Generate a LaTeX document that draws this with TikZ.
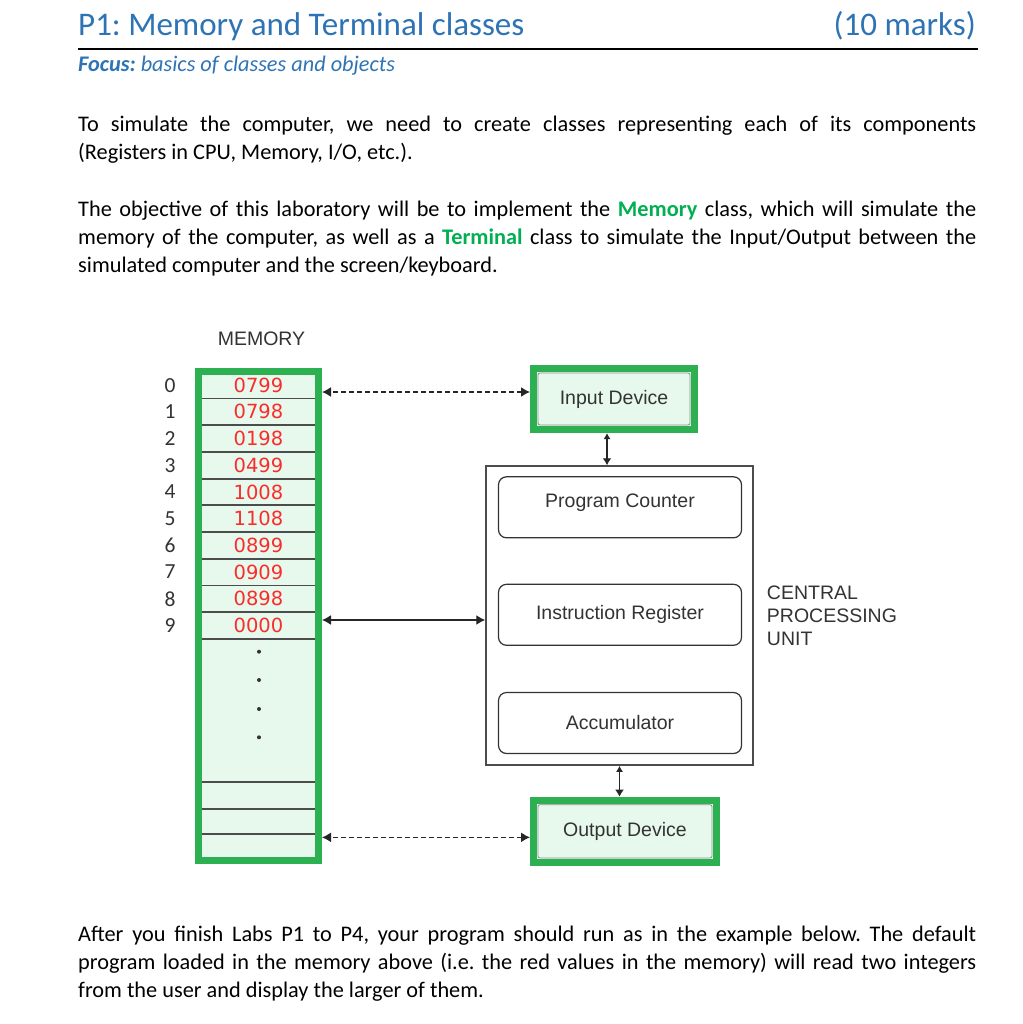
\documentclass[tikz,border=0pt]{standalone}
\usepackage{fontspec}
\setmainfont{Carlito}
\newfontfamily\diagfont{Liberation Sans}
\newfontfamily\cellfont{DejaVu Sans}
\usetikzlibrary{arrows.meta,positioning}
\definecolor{headblue}{RGB}{46,116,181}
\definecolor{wordgreen}{RGB}{0,176,80}
\definecolor{boxgreen}{RGB}{44,176,82}
\definecolor{boxfill}{RGB}{231,249,236}
\definecolor{cellred}{RGB}{250,45,45}
\definecolor{inkgray}{RGB}{51,51,51}
\newcommand{\bodysize}{\fontsize{22.3}{27.8}\selectfont}
\newcommand{\diagsize}{\fontsize{19.5}{23}\selectfont}
\frenchspacing

\begin{document}
\begin{tikzpicture}[x=1pt,y=-1pt,>={Latex[length=9pt,width=10pt]},
 para/.style={anchor=base west,inner sep=0pt,text width=898pt,align=justify,font=\bodysize},
 greenbox/.style={draw=boxgreen,line width=7pt,fill=boxfill,font=\diagfont\diagsize,text=inkgray},
 inframe/.style={draw=black!45,line width=0.8pt,rounded corners=2pt},
 reg/.style={draw=inkgray,line width=1.2pt,rounded corners=8pt,minimum width=243pt,minimum height=61pt,font=\diagfont\diagsize,text=inkgray},
 rowline/.style={draw=black!70,line width=1.8pt},
 cell/.style={inner sep=0pt,font=\cellfont\fontsize{19.5}{19.5}\selectfont,text=cellred},
 idx/.style={inner sep=0pt,font=\fontsize{21.5}{21.5}\selectfont,text=inkgray},
 dlink/.style={<->,draw=black!85,line width=1.4pt,dash pattern=on 5pt off 3pt},
 slink/.style={<->,draw=black!85,line width=1.4pt},
 vlink/.style={{Latex[length=6pt,width=7pt]}-{Latex[length=7pt,width=9pt]},draw=black!85,line width=1.4pt}]
 \useasboundingbox (0,0) rectangle (1022,1024);
 \fill[white] (0,0) rectangle (1022,1024);
 % heading
 \node[anchor=base west,inner sep=0pt,font=\fontsize{33}{33}\selectfont,text=headblue] (title) at (78,35.7) {P1: Memory and Terminal classes};
 \node[anchor=base east,inner sep=0pt,font=\fontsize{33}{33}\selectfont,text=headblue] (marks) at (976,35.7) {(10 marks)};
 \draw[line width=2pt] (78,49.5) -- (978,49.5);
 \node[anchor=base west,inner sep=0pt,font=\bodysize\itshape,text=headblue] (focus) at (78,71.7) {\textbf{Focus:} basics of classes and objects};
 % paragraphs
 \node[para] (intro) at (78,131.7) {To simulate the computer, we need to create classes representing each of its components\linebreak (Registers in CPU, Memory, I/O, etc.).};
 \node[para] (goal) at (78,216.7) {The objective of this laboratory will be to implement the \textcolor{wordgreen}{\textbf{Memory}} class, which will simulate the\linebreak memory of the computer, as well as a \textcolor{wordgreen}{\textbf{Terminal}} class to simulate the Input/Output between the\linebreak simulated computer and the screen/keyboard.};
 \node[para] (after) at (78,941.7) {After you finish Labs P1 to P4, your program should run as in the example below. The default\linebreak program loaded in the memory above (i.e. the red values in the memory) will read two integers\linebreak from the user and display the larger of them.};
 % memory column
 \node[greenbox,minimum width=120pt,minimum height=489.3pt] (mem) at (258.5,616.15) {};
 \node[above=22pt of mem,xshift=3pt,inner sep=0pt,font=\diagfont\diagsize,text=inkgray] (memlabel) {MEMORY};
 \foreach \k in {0,...,9}
  \draw[rowline] (202,{398.5+26.7*\k}) -- (315,{398.5+26.7*\k});
 \foreach \y in {781.7,809,834.3}
  \draw[rowline] (202,\y) -- (315,\y);
 \foreach \v [count=\i from 0] in {0799,0798,0198,0499,1008,1108,0899,0909,0898,0000} {
  \node[cell] (c\i) at (258.5,{385.15+26.7*\i}) {\v};
  \node[idx] (n\i) at (170,{385.15+26.7*\i}) {\i};
 }
 \foreach \y in {651.7,680,709,737.3}
  \fill[inkgray] (259,\y) circle (2pt);
 % devices and cpu
 \node[greenbox,minimum width=161pt,minimum height=61pt] (idev) at (614,399) {Input Device};
 \node[greenbox,minimum width=183pt,minimum height=62.3pt] (odev) at (625,831.35) {Output Device};
 \draw[inframe] ([xshift=8pt,yshift=-8pt]idev.north west) rectangle ([xshift=-8pt,yshift=8pt]idev.south east);
 \draw[inframe] ([xshift=8pt,yshift=-8pt]odev.north west) rectangle ([xshift=-8pt,yshift=8pt]odev.south east);
 \node[draw=black!70,line width=1.5pt,minimum width=267pt,minimum height=299pt] (cpu) at (619.5,615.5) {};
 \node[reg,text depth=14pt] (pc) at (620,507.3) {Program Counter};
 \node[reg] (ir) at (620,614.8) {Instruction Register};
 \node[reg] (acc) at (620,723) {Accumulator};
 \node[right=13pt of cpu,inner sep=0pt,align=left,font=\diagfont\diagsize,text=inkgray] (cpuname) {CENTRAL\\PROCESSING\\UNIT};
 % connectors
 \draw[dlink] ([yshift=7pt]idev.west) -- ([yshift=7pt]idev.west -| mem.east);
 \draw[dlink] ([yshift=-6pt]odev.west) -- ([yshift=-6pt]odev.west -| mem.east);
 \draw[slink] ([yshift=-4.5pt]cpu.west) -- ([yshift=-4.5pt]cpu.west -| mem.east);
 \draw[vlink] ([xshift=-7pt]idev.south) -- ([xshift=-7pt]idev.south |- cpu.north);
 \draw[vlink] (cpu.south) -- (cpu.south |- odev.north);
\end{tikzpicture}
\end{document}
